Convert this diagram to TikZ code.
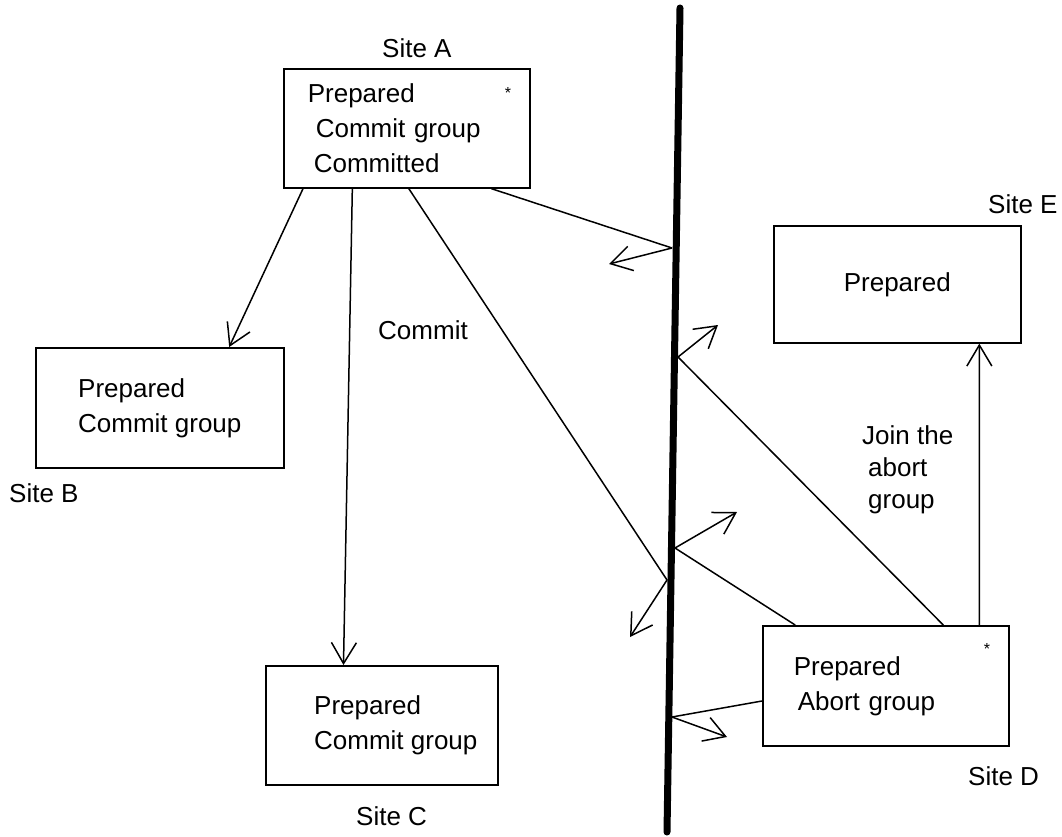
\documentclass[tikz,border=0pt]{standalone}
\usepackage{fontspec}
\setmainfont{Liberation Sans}
\usetikzlibrary{arrows.meta, positioning, calc}
\newcommand{\sitefont}{\fontsize{26}{35}\selectfont}
\tikzset{
  sitebox/.style={rectangle, draw=black, line width=1.6pt, anchor=north west,
    align=left, inner sep=0pt, font=\sitefont},
  sitelbl/.style={anchor=base west, inner sep=0pt, font=\sitefont},
  msgline/.style={line width=1.5pt, black},
  msgarrow/.style={-{Straight Barb[length=21pt, width=25pt]}, line width=1.5pt, black},
  wall/.style={line width=7pt, line cap=round, black},
  astx/.style={inner sep=0pt, font=\fontsize{16}{16}\selectfont}
}

\begin{document}
\begin{tikzpicture}[x=1pt, y=-1pt]
  \useasboundingbox (0,0) rectangle (1062,837);

  % the partition
  \coordinate (wallTop) at (680,8);
  \coordinate (wallBot) at (667,832);
  \draw[wall] (wallTop) -- (wallBot);

  % sites
  \node[sitebox, minimum width=246pt, minimum height=119pt, text width=198pt] (siteA) at (283,68)
    {Prepared\\\hspace*{8pt}Commit group\\\hspace*{6pt}Committed};
  \node[sitebox, minimum width=248pt, minimum height=120pt] (siteB) at (35,347)
    {Prepared\\Commit group};
  \node[sitebox, minimum width=232pt, minimum height=119pt] (siteC) at (265,665)
    {\hspace*{28pt}Prepared\\\hspace*{28pt}Commit group};
  \node[sitebox, minimum width=246pt, minimum height=120pt, text width=184pt] (siteD) at (762,625)
    {Prepared\\\hspace*{4pt}Abort group};
  \node[sitebox, minimum width=247pt, minimum height=117pt, align=center] (siteE) at (773,225)
    {Prepared};

  \node[astx] (astA) at (508,93) {*};
  \node[astx] (astD) at (987,649) {*};

  % labels
  \node[sitelbl] (lblA) at (382,58) {Site A};
  \node[sitelbl] (lblB) at (9,502) {Site B};
  \node[sitelbl] (lblC) at (356,825) {Site C};
  \node[sitelbl] (lblD) at (968,785) {Site D};
  \node[sitelbl] (lblE) at (988,213) {Site E};
  \node[sitelbl] (lblCommit) at (378,339) {Commit};
  \node[sitelbl, anchor=north west, align=left, font=\fontsize{26}{32}\selectfont] (lblJoin) at (862,425)
    {Join the\\\hspace*{6pt}abort\\\hspace*{6pt}group};

  % where messages meet the partition
  \coordinate (hitA1) at (672,248);
  \coordinate (bounceA1) at (609,264);
  \coordinate (hitA2) at (667,580);
  \coordinate (bounceA2) at (630,637);
  \coordinate (hitD1) at (678,357);
  \coordinate (bounceD1) at (718,325);
  \coordinate (hitD2) at (675,548);
  \coordinate (bounceD2) at (737,512);
  \coordinate (hitD3) at (672,717);
  \coordinate (bounceD3) at (727,737);

  % messages
  \draw[msgarrow] ($(siteA.south west)!0.081!(siteA.south east)$) -- ($(siteB.north west)!0.778!(siteB.north east)$);
  \draw[msgarrow] ($(siteA.south west)!0.28!(siteA.south east)$) -- ($(siteC.north west)!0.336!(siteC.north east)$);
  \draw[msgline] ($(siteA.south west)!0.508!(siteA.south east)$) -- (hitA2);
  \draw[msgline] ($(siteA.south west)!0.841!(siteA.south east)$) -- (hitA1);
  \draw[msgline] ($(siteD.north west)!0.732!(siteD.north east)$) -- (hitD1);
  \draw[msgline] ($(siteD.north west)!0.134!(siteD.north east)$) -- (hitD2);
  \draw[msgline] ($(siteD.north west)!0.625!(siteD.south west)$) -- (hitD3);
  \draw[msgarrow] ($(siteD.north west)!0.878!(siteD.north east)$) -- ($(siteE.south west)!0.83!(siteE.south east)$);
  \foreach \h/\b in {hitA1/bounceA1, hitA2/bounceA2, hitD1/bounceD1, hitD2/bounceD2, hitD3/bounceD3}
    \draw[msgarrow] (\h) -- (\b);
\end{tikzpicture}
\end{document}
